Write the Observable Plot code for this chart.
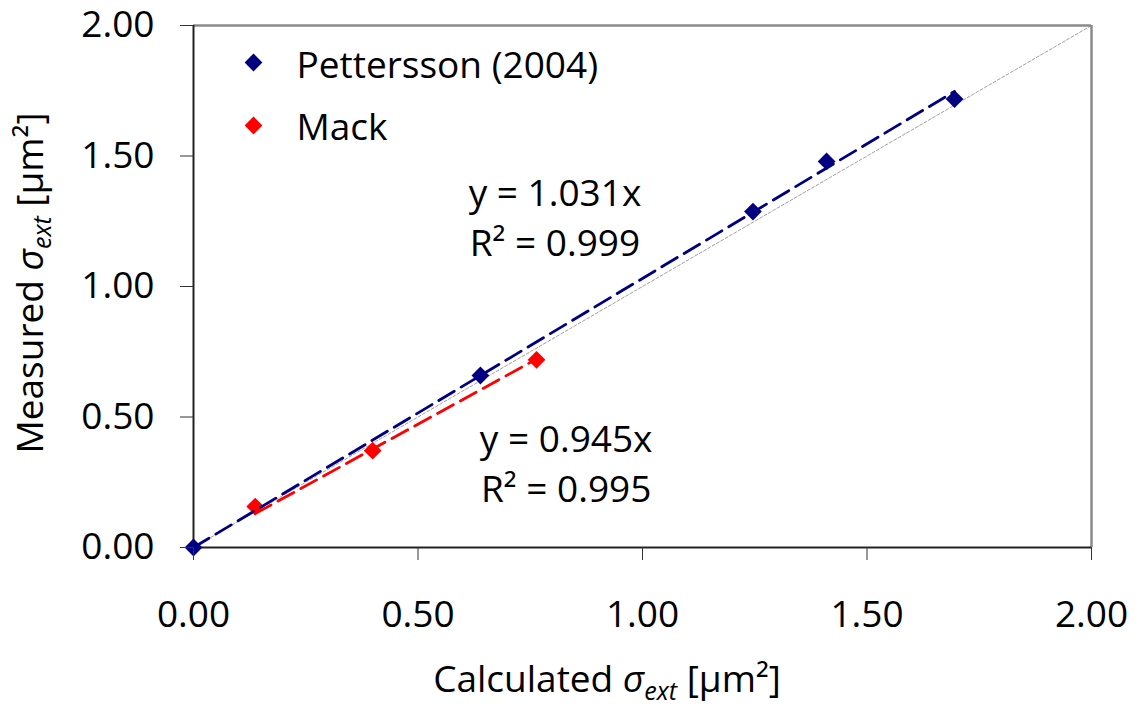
<!DOCTYPE html>
<html>
<head>
<meta charset="utf-8">
<script src="https://cdn.jsdelivr.net/npm/d3@7"></script>
<script src="https://cdn.jsdelivr.net/npm/@observablehq/plot@0.6"></script>
<style>
  html, body { margin: 0; padding: 0; background: #fff; }
  #chart svg { display: block; }
</style>
</head>
<body>
<div id="chart"></div>
<script>
// ---- data ----
const seriesNames = ["Pettersson (2004)", "Mack"];
const pettX = [0, 0.639, 1.246, 1.41, 1.695];
const pettY = [0, 0.659, 1.287, 1.479, 1.718];
const mackX = [0.1375, 0.399, 0.764];
const mackY = [0.157, 0.371, 0.719];
const slopes = [1.031, 0.945];
const r2Values = ["0.999", "0.995"];
const slopeLabels = ["1.031", "0.945"];
const tickValues = [0, 0.5, 1, 1.5, 2];
const colors = ["#000080", "#ff0000"];

// ---- tables built from the arrays ----
const points = [
  ...pettX.map((x, i) => ({series: seriesNames[0], x, y: pettY[i]})),
  ...mackX.map((x, i) => ({series: seriesNames[1], x, y: mackY[i]}))
];
const xs = [pettX, mackX];
const trend = seriesNames.flatMap((s, k) => {
  const ext = d3.extent(xs[k]);
  return ext.map(x => ({series: s, x, y: slopes[k] * x}));
});
const identity = [{x: 0, y: 0}, {x: 2, y: 2}];
// annotation anchors (data coords near the fits)
const annX = [0.805, 0.83];
const annY = [1.31, 0.365];
const eqRows = seriesNames.map((s, k) => ({x: annX[k], y: annY[k], text: `y = ${slopeLabels[k]}x`}));
const r2Rows = seriesNames.map((s, k) => ({x: annX[k], y: annY[k], text: `R² = ${r2Values[k]}`}));

const FS = 37;
const legendMarks = seriesNames.flatMap((s, i) => [
  Plot.dot([s], {frameAnchor: "top-left", dx: 60, dy: 37 + i * 63, fill: colors[i], symbol: "diamond2", r: 8}),
  Plot.text([s], {frameAnchor: "top-left", dx: 103, dy: 52 + i * 62, text: d => d, textAnchor: "start", lineAnchor: "bottom", fontSize: FS, fill: "#000"})
]);

const plot = Plot.plot({
  width: 1139,
  height: 707,
  marginLeft: 193,
  marginRight: 48,
  marginTop: 25,
  marginBottom: 160,
  style: {fontFamily: "'Open Sans', sans-serif", background: "#fff", color: "#000"},
  x: {domain: [0, 2]},
  y: {domain: [0, 2]},
  color: {domain: seriesNames, range: colors},
  marks: [
    // 1:1 reference line
    Plot.line(identity, {x: "x", y: "y", stroke: "#a0a0a0", strokeWidth: 1, strokeDasharray: "3,2"}),
    // frame
    Plot.ruleX([2], {stroke: "#8a8a8a", strokeWidth: 2.5}),
    Plot.ruleY([2], {stroke: "#8a8a8a", strokeWidth: 2.5}),
    Plot.ruleX([0], {stroke: "#222", strokeWidth: 2}),
    Plot.ruleY([0], {stroke: "#222", strokeWidth: 2}),
    // data points
    Plot.dot(points, {x: "x", y: "y", fill: "series", symbol: "diamond2", r: 8, stroke: "none"}),
    // trend lines
    Plot.line(trend, {x: "x", y: "y", z: "series", stroke: "series", strokeWidth: 2.8, strokeDasharray: "18,8"}),
    // annotations
    Plot.text(eqRows, {x: "x", y: "y", text: "text", fontSize: FS, textAnchor: "middle", lineAnchor: "bottom", fill: "#000"}),
    Plot.text(r2Rows, {x: "x", y: "y", text: "text", dy: 50, fontSize: FS, textAnchor: "middle", lineAnchor: "bottom", fill: "#000"}),
    // legend
    ...legendMarks,
    // axes
    Plot.axisX({ticks: tickValues, tickFormat: d3.format(".2f"), tickSize: 13, tickPadding: 40, fontSize: FS, label: null, stroke: "#333"}),
    Plot.axisY({ticks: tickValues, tickFormat: d3.format(".2f"), tickSize: 13, tickPadding: 26, fontSize: FS, label: null, stroke: "#333"})
  ]
});
document.getElementById("chart").appendChild(plot);

// axis titles with italic sigma and subscript
const svg = d3.select(plot);
function title(g, prefix) {
  g.append("tspan").text(prefix);
  g.append("tspan").attr("font-style", "italic").text("σ");
  g.append("tspan").attr("font-style", "italic").attr("font-size", 25).attr("dy", 8).text("ext");
  g.append("tspan").attr("dy", -8).text(" [µm²]");
}
const xt = svg.append("text")
  .attr("x", 607).attr("y", 692)
  .attr("text-anchor", "middle").attr("font-size", FS).attr("fill", "#000");
title(xt, "Calculated ");
const yt = svg.append("text")
  .attr("transform", "translate(43,283) rotate(-90)")
  .attr("text-anchor", "middle").attr("font-size", FS).attr("fill", "#000");
title(yt, "Measured ");
</script>
</body>
</html>
